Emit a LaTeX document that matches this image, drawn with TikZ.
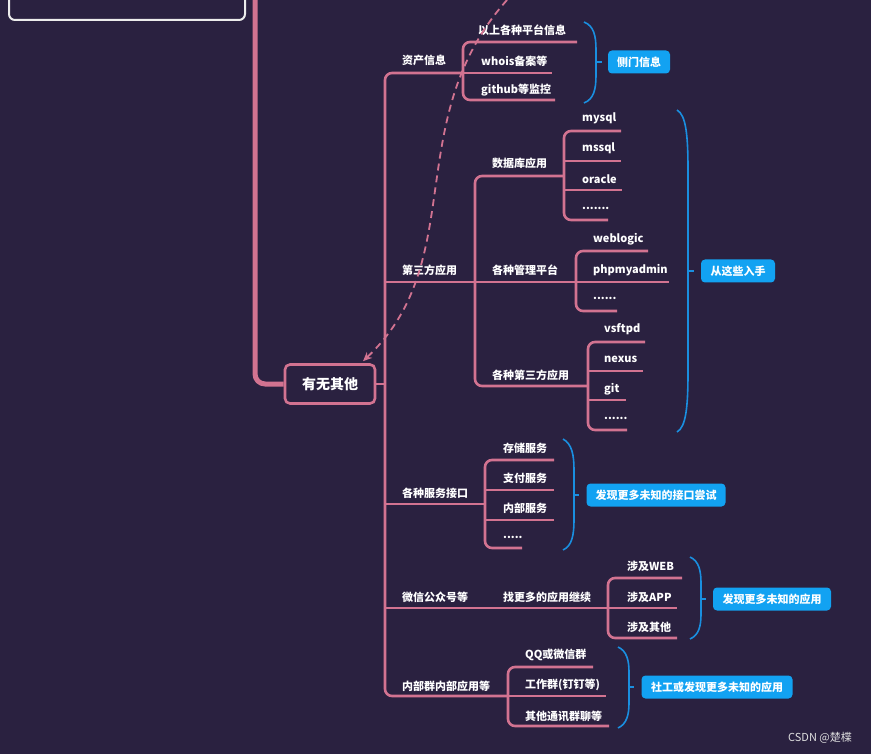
\documentclass[tikz,border=0pt]{standalone}
\usepackage{fontspec}
\setmainfont{Noto Sans CJK SC}
\usetikzlibrary{arrows.meta}
\definecolor{mapbg}{HTML}{2A2140}
\definecolor{mappink}{HTML}{D27391}
\definecolor{mapblue}{HTML}{1A8FE0}
\definecolor{tagblue}{HTML}{12A2F2}

\begin{document}
\begin{tikzpicture}[x=1pt,y=-1pt,font=\fontsize{11}{13}\selectfont\bfseries,
  lb/.style={anchor=west,text=white,inner sep=0pt},
  br/.style={draw=mappink,line width=2.6pt,rounded corners=7pt},
  bc/.style={draw=mapblue,line width=1.6pt},
  tag/.style={fill=tagblue,rounded corners=4pt,text=white,minimum height=23pt,inner sep=2pt},
  root/.style={draw=mappink,line width=2.6pt,rounded corners=5pt,text=white,minimum width=90pt,minimum height=39pt,font=\fontsize{14}{16}\selectfont\bfseries}]
\path[use as bounding box,fill=mapbg] (0,0) rectangle (871,754);

% top box and main branch
\node[draw=white!85!gray,line width=2pt,rounded corners=6pt,minimum width=236pt,minimum height=70pt] (title) at (127,-15) {};
\node[root] (root) at (330,384) {有无其他};
\coordinate (top) at (255,-10);
\draw[br,line width=5pt,rounded corners=10pt] (top) |- (root.west);

% junctions
\coordinate (trunk) at (385,384);
\coordinate (zcJ) at (463,73);
\coordinate (dsJ) at (475,282);
\coordinate (dbJ) at (564,176);
\coordinate (mgJ) at (576,282);
\coordinate (tpJ) at (588,386);
\coordinate (fwJ) at (485,504);
\coordinate (wxJ) at (608,608);
\coordinate (nbJ) at (508,696);

% line ends
\coordinate (pingtaiE) at (577,42);
\coordinate (whoisE) at (552,73);
\coordinate (githubE) at (555,100);
\coordinate (mysqlE) at (621,131);
\coordinate (mssqlE) at (621,161);
\coordinate (oracleE) at (622,190);
\coordinate (dbmoreE) at (608,220);
\coordinate (weblogicE) at (648,251);
\coordinate (phpE) at (669,282);
\coordinate (glmoreE) at (617,311);
\coordinate (vsftpdE) at (645,342);
\coordinate (nexusE) at (643,371);
\coordinate (gitE) at (626,400);
\coordinate (sfmoreE) at (627,430);
\coordinate (cunchuE) at (554,460);
\coordinate (zhifuE) at (554,490);
\coordinate (neibufwE) at (554,520);
\coordinate (fwmoreE) at (522,548);
\coordinate (webE) at (682,578);
\coordinate (appE) at (677,608);
\coordinate (qitaE) at (677,638);
\coordinate (qqE) at (593,667);
\coordinate (gongzuoE) at (606,696);
\coordinate (tongxunE) at (609,726);

\draw[br] (root.east) -- (trunk);
\draw[br] (zcJ) -| (trunk) |- (nbJ);
\draw[br] (pingtaiE) -| (zcJ) |- (githubE);
\draw[br] (zcJ) -- (whoisE);
\draw[br] (trunk |- dsJ) -- (dsJ);
\draw[br] (dbJ) -| (dsJ) |- (tpJ);
\draw[br] (dsJ) -- (mgJ);
\draw[br] (mysqlE) -| (dbJ) |- (dbmoreE);
\draw[br] (dbJ |- mssqlE) -- (mssqlE);
\draw[br] (dbJ |- oracleE) -- (oracleE);
\draw[br] (weblogicE) -| (mgJ) |- (glmoreE);
\draw[br] (mgJ) -- (phpE);
\draw[br] (vsftpdE) -| (tpJ) |- (sfmoreE);
\draw[br] (tpJ |- nexusE) -- (nexusE);
\draw[br] (tpJ |- gitE) -- (gitE);
\draw[br] (trunk |- fwJ) -- (fwJ);
\draw[br] (cunchuE) -| (fwJ) |- (fwmoreE);
\draw[br] (fwJ |- zhifuE) -- (zhifuE);
\draw[br] (fwJ |- neibufwE) -- (neibufwE);
\draw[br] (trunk |- wxJ) -- (wxJ);
\draw[br] (webE) -| (wxJ) |- (qitaE);
\draw[br] (wxJ) -- (appE);
\draw[br] (qqE) -| (nbJ) |- (tongxunE);
\draw[br] (nbJ) -- (gongzuoE);

% labels
\node[lb] (zichan) at (402,60) {资产信息};
\node[lb] (pingtai) at (478,30) {以上各种平台信息};
\node[lb] (whois) at (481,61) {whois备案等};
\node[lb] (github) at (481,90) {github等监控};
\node[lb] (sanfang) at (402,270) {第三方应用};
\node[lb] (shujuku) at (492,163) {数据库应用};
\node[lb] (mysql) at (582,118) {mysql};
\node[lb] (mssql) at (582,148) {mssql};
\node[lb] (oracle) at (582,179) {oracle};
\node[lb] (dbmore) at (582,208) {.......};
\node[lb] (guanli) at (492,270) {各种管理平台};
\node[lb] (weblogic) at (593,239) {weblogic};
\node[lb] (phpmyadmin) at (593,270) {phpmyadmin};
\node[lb] (glmore) at (593,298) {......};
\node[lb] (sfyy) at (492,375) {各种第三方应用};
\node[lb] (vsftpd) at (604,329) {vsftpd};
\node[lb] (nexus) at (604,359) {nexus};
\node[lb] (git) at (604,389) {git};
\node[lb] (sfmore) at (604,418) {......};
\node[lb] (jiekou) at (402,493) {各种服务接口};
\node[lb] (cunchu) at (503,448) {存储服务};
\node[lb] (zhifu) at (503,478) {支付服务};
\node[lb] (neibufw) at (503,508) {内部服务};
\node[lb] (fwmore) at (503,537) {.....};
\node[lb] (weixin) at (402,597) {微信公众号等};
\node[lb] (zhaogeng) at (503,597) {找更多的应用继续};
\node[lb] (web) at (627,566) {涉及WEB};
\node[lb] (app) at (627,597) {涉及APP};
\node[lb] (qita) at (627,627) {涉及其他};
\node[lb] (neibuqun) at (402,686) {内部群内部应用等};
\node[lb] (qq) at (525,655) {QQ或微信群};
\node[lb] (gongzuo) at (525,685) {工作群(钉钉等)};
\node[lb] (tongxun) at (525,716) {其他通讯群聊等};

% braces and tags
\draw[bc] (584,22) .. controls (594,26) and (596,36) .. (596,50) -- (596,75) .. controls (596,89) and (594,99) .. (584,103);
\draw[bc] (596,62) -- (602,62);
\node[tag,minimum width=62pt] (cemen) at (639,62) {侧门信息};
\draw[bc] (677,110) .. controls (686,115) and (688,135) .. (688,170) -- (688,372) .. controls (688,407) and (686,427) .. (677,432);
\draw[bc] (688,271) -- (694,271);
\node[tag,minimum width=74pt] (rushou) at (738,271) {从这些入手};
\draw[bc] (563,439) .. controls (572,444) and (574,455) .. (574,470) -- (574,520) .. controls (574,535) and (572,546) .. (563,550);
\draw[bc] (574,495) -- (579,495);
\node[tag,minimum width=139pt] (jkcs) at (656,495) {发现更多未知的接口尝试};
\draw[bc] (690,557) .. controls (699,561) and (701,571) .. (701,583) -- (701,614) .. controls (701,626) and (699,635) .. (690,639);
\draw[bc] (701,599) -- (706,599);
\node[tag,minimum width=118pt] (wzyy) at (772,599) {发现更多未知的应用};
\draw[bc] (618,647) .. controls (627,651) and (629,661) .. (629,672) -- (629,703) .. controls (629,714) and (627,724) .. (618,728);
\draw[bc] (629,687) -- (634,687);
\node[tag,minimum width=151pt] (shegong) at (717,687) {社工或发现更多未知的应用};

% dashed link
\coordinate (dtop) at (507,0);
\draw[mappink,line width=1.8pt,dash pattern=on 7pt off 5pt,shorten >=3pt,-{Stealth[length=9pt,width=8pt]}] (dtop) .. controls (400,120) and (470,260) .. (root.34);

\node[text=white!75!gray,font=\fontsize{11}{13}\selectfont] (mark) at (820,738) {CSDN @楚楪};
\end{tikzpicture}
\end{document}
